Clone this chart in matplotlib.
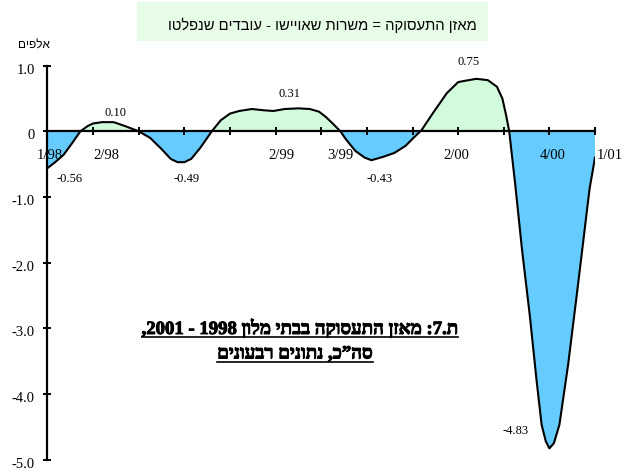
import re
import matplotlib
matplotlib.use('Agg')
import matplotlib.pyplot as plt
import matplotlib.patheffects as pe
import numpy as np
from matplotlib.patches import Rectangle
from matplotlib.lines import Line2D
from matplotlib.transforms import ScaledTranslation

# quarterly balance (thousands), position in quarters from 1/98
qpos = [0.00, 0.15, 0.35, 0.55, 0.72, 0.88, 1.00, 1.20, 1.45, 1.70,
        2.00, 2.25, 2.50, 2.70, 2.85, 3.00, 3.15, 3.35, 3.60, 3.80,
        4.00, 4.20, 4.48, 4.75, 4.95, 5.20, 5.50, 5.75, 5.95, 6.10,
        6.25, 6.42, 6.55, 6.75, 6.95, 7.10, 7.35, 7.60, 7.85, 8.05,
        8.20, 8.45, 8.75, 9.00, 9.15, 9.40, 9.65, 9.85, 9.97, 10.05,
        10.12, 10.25, 10.40, 10.57, 10.72, 10.83, 10.92, 11.00, 11.10, 11.22,
        11.41, 11.59, 11.74, 11.88, 12.00]
balance = [-0.56, -0.48, -0.36, -0.17, 0.00, 0.08, 0.12, 0.14, 0.14, 0.08,
           0.00, -0.10, -0.27, -0.42, -0.47, -0.47, -0.42, -0.25, 0.00, 0.17,
           0.27, 0.31, 0.34, 0.32, 0.31, 0.34, 0.35, 0.34, 0.30, 0.22,
           0.12, 0.00, -0.13, -0.30, -0.40, -0.44, -0.39, -0.33, -0.22, -0.08,
           0.02, 0.28, 0.58, 0.75, 0.77, 0.80, 0.78, 0.68, 0.50, 0.25,
           0.00, -0.80, -1.80, -2.80, -3.80, -4.47, -4.72, -4.83, -4.75, -4.47,
           -3.56, -2.55, -1.69, -0.88, -0.40]

quarter_labels = ['1/98', '2/98', '2/99', '3/99', '2/00', '4/00', '1/01']
quarter_label_pos = [0.06, 1.30, 5.13, 6.41, 8.95, 11.07, 12.04]

peak_labels = ['-0.56', '0.10', '-0.49', '0.31', '-0.43', '0.75', '-4.83']
peak_x = [0.49, 1.50, 3.05, 5.31, 7.28, 9.23, 10.25]
peak_y = [-0.73, 0.28, -0.73, 0.57, -0.73, 1.06, -4.57]

y_ticks = [1, 0, -1, -2, -3, -4, -5]
y_tick_labels = ['1.0', '0', '-1.0', '-2.0', '-3.0', '-4.0', '-5.0']

legend_text = 'מאזן התעסוקה = משרות שאויישו - עובדים שנפלטו'
unit_text = 'אלפים'
title_lines = ['ת.7: מאזן התעסוקה בבתי מלון 1998 - 2001,',
               'סה”כ, נתונים רבעונים']


def vis(s):
    # tiny bidi: reverse an RTL line but keep number runs left-to-right
    parts = re.findall(r'\d+(?:[.,]\d+)*|\D+', s)
    return ''.join(p if p[0].isdigit() else p[::-1] for p in reversed(parts))


serif = ['Liberation Serif', 'DejaVu Serif']
sans = ['Liberation Sans', 'DejaVu Sans']

W, H = 624, 470
fig = plt.figure(figsize=(W / 100, H / 100), dpi=100)
ax = fig.add_axes([47.5 / W, 1 - 459.5 / H, (595 - 47.5) / W, (459.5 - 65.7) / H])

b = np.array(balance)
ax.fill_between(qpos, b, 0, where=b >= 0, interpolate=True, color='#d2fbdc', lw=0)
ax.fill_between(qpos, b, 0, where=b <= 0, interpolate=True, color='#66ccff', lw=0)
ax.plot(qpos, b, color='black', lw=1.5, zorder=3)

ax.set_xlim(0, 12)
ax.set_ylim(-5, 1)
for s in ['top', 'right']:
    ax.spines[s].set_visible(False)
ax.spines['bottom'].set_position(('data', 0))
ax.spines['bottom'].set_linewidth(1.6)
ax.spines['left'].set_linewidth(1.6)
ax.spines['bottom'].set_zorder(4)
ax.spines['left'].set_zorder(4)

ax.set_xticks(range(13))
ax.set_xticklabels([])
ax.set_yticks(y_ticks)
ax.set_yticklabels(y_tick_labels, family=serif, fontsize=10.5)
ax.tick_params(direction='inout', length=6, width=1.4, color='black')
ax.tick_params(axis='y', pad=6)
for lab in ax.get_yticklabels():
    lab.set_transform(lab.get_transform() + ScaledTranslation(0, -3 / 100, fig.dpi_scale_trans))

for txt, xp in zip(quarter_labels, quarter_label_pos):
    ha = 'left' if txt == '1/01' else 'center'
    ax.text(xp, -0.37, txt, ha=ha, va='center', family=serif, fontsize=10.5)

for txt, xp, yp in zip(peak_labels, peak_x, peak_y):
    ax.text(xp, yp, txt, ha='center', va='center', family=serif, fontsize=9)

# legend box on top
fig.patches.append(Rectangle((137 / W, 1 - 41 / H), (488 - 137) / W, 39 / H,
                             transform=fig.transFigure, facecolor='#e6fce6',
                             edgecolor='none'))
fig.text(477 / W, 1 - 25 / H, vis(legend_text), ha='right', va='center',
         family=sans, fontsize=10.6)
fig.text(33.5 / W, 1 - 45 / H, vis(unit_text), ha='center', va='center',
         family=sans, fontsize=8.5)

# underlined bold title inside the plot
thick = [pe.withStroke(linewidth=0.7, foreground='black')]
t1 = fig.text(300 / W, 1 - 328 / H, vis(title_lines[0]), ha='center', va='center',
              family=serif, fontsize=13.5, fontweight='bold', path_effects=thick)
t2 = fig.text(295 / W, 1 - 354 / H, vis(title_lines[1]), ha='center', va='center',
              family=serif, fontsize=13.5, fontweight='bold', path_effects=thick)
fig.canvas.draw()
r = fig.canvas.get_renderer()
for t in (t1, t2):
    bb = t.get_window_extent(r)
    yline = bb.y0 + 1
    fig.add_artist(Line2D([bb.x0 / W, bb.x1 / W], [yline / H, yline / H],
                          transform=fig.transFigure, color='black', lw=1.2))

fig.savefig('out.png', dpi=100)
